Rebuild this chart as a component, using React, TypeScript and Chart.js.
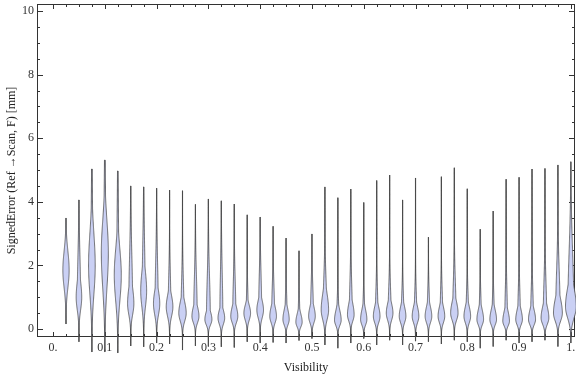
import React, { useEffect, useRef } from 'react';
import { Chart, registerables } from 'chart.js';
Chart.register(...registerables);

// Visibility category of each violin
const positions = [
  0.025, 0.05, 0.075, 0.1, 0.125, 0.15, 0.175, 0.2, 0.225, 0.25,
  0.275, 0.3, 0.325, 0.35, 0.375, 0.4, 0.425, 0.45, 0.475, 0.5,
  0.525, 0.55, 0.575, 0.6, 0.625, 0.65, 0.675, 0.7, 0.725, 0.75,
  0.775, 0.8, 0.825, 0.85, 0.875, 0.9, 0.925, 0.95, 0.975, 1.0,
];
// Extremes of the signed error per category (mm)
const maxima = [
  3.49, 4.06, 5.03, 5.31, 4.97, 4.5, 4.47, 4.43, 4.37, 4.35,
  3.92, 4.09, 4.03, 3.93, 3.59, 3.52, 3.23, 2.86, 2.46, 2.99,
  4.47, 4.13, 4.4, 3.98, 4.67, 4.84, 4.06, 4.75, 2.89, 4.79,
  5.07, 4.41, 3.14, 3.71, 4.71, 4.77, 5.03, 5.05, 5.16, 5.26,
];
const minima = [
  0.16, -0.4, -0.72, -0.72, -0.75, -0.53, -0.56, -0.44, -0.47, -0.66,
  -0.53, -0.55, -0.56, -0.58, -0.4, -0.44, -0.42, -0.44, -0.36, -0.3,
  -0.5, -0.6, -0.44, -0.3, -0.5, -0.35, -0.5, -0.38, -0.4, -0.47,
  -0.35, -0.4, -0.6, -0.55, -0.35, -0.44, -0.4, -0.35, -0.55, -0.44,
];
// Density description per category: mode, spread below / above, upper tail weight & spread, relative peak density
const modes = [
  1.85, 1.0, 2.0, 2.4, 1.7, 0.8, 1.2, 0.8, 0.7, 0.5,
  0.4, 0.3, 0.35, 0.4, 0.5, 0.6, 0.4, 0.3, 0.22, 0.4,
  0.6, 0.28, 0.45, 0.3, 0.4, 0.5, 0.4, 0.4, 0.4, 0.4,
  0.5, 0.4, 0.3, 0.3, 0.25, 0.3, 0.3, 0.35, 0.5, 0.7,
];
const spreadBelow = [
  0.55, 0.4, 0.9, 1.1, 0.8, 0.35, 0.5, 0.35, 0.3, 0.25,
  0.2, 0.17, 0.2, 0.2, 0.22, 0.25, 0.2, 0.17, 0.15, 0.2,
  0.3, 0.17, 0.2, 0.17, 0.2, 0.22, 0.2, 0.2, 0.2, 0.2,
  0.22, 0.2, 0.17, 0.17, 0.15, 0.17, 0.17, 0.2, 0.25, 0.35,
];
const spreadAbove = [
  0.6, 0.5, 1.0, 1.0, 0.8, 0.5, 0.6, 0.4, 0.35, 0.35,
  0.3, 0.25, 0.25, 0.3, 0.25, 0.3, 0.3, 0.3, 0.25, 0.3,
  0.5, 0.3, 0.35, 0.3, 0.3, 0.3, 0.3, 0.3, 0.3, 0.3,
  0.35, 0.3, 0.3, 0.3, 0.3, 0.3, 0.3, 0.35, 0.45, 0.6,
];
const tailWeight = [
  0, 0.6, 0.3, 0.3, 0.3, 0.6, 0.5, 0.5, 0.4, 0.4,
  0.5, 0.55, 0.45, 0.45, 0.3, 0.45, 0.45, 0.35, 0.3, 0.45,
  0.5, 0.35, 0.45, 0.35, 0.4, 0.45, 0.4, 0.4, 0.4, 0.4,
  0.45, 0.4, 0.35, 0.35, 0.4, 0.4, 0.4, 0.45, 0.5, 0.55,
];
const tailSpread = [
  1, 1.3, 2.0, 2.0, 2.0, 1.5, 1.5, 1.3, 1.0, 1.0,
  1.2, 1.3, 1.4, 1.1, 0.7, 1.1, 0.9, 0.7, 0.6, 0.9,
  1.0, 0.6, 1.0, 0.6, 0.8, 0.8, 0.7, 0.7, 0.7, 0.8,
  1.0, 0.7, 0.7, 0.7, 1.0, 0.9, 0.9, 1.1, 1.3, 1.7,
];
const peakDensity = [
  0.85, 0.75, 0.9, 0.95, 0.95, 0.85, 0.8, 0.85, 0.9, 1.0,
  0.95, 0.95, 0.9, 0.95, 0.9, 0.9, 0.9, 0.85, 0.85, 0.9,
  1.0, 0.9, 0.9, 0.85, 0.9, 0.9, 0.9, 0.9, 0.9, 0.9,
  1.0, 0.9, 0.9, 0.9, 0.9, 0.9, 0.95, 1.05, 1.2, 1.45,
];

const xTickValues = [0, 0.1, 0.2, 0.3, 0.4, 0.5, 0.6, 0.7, 0.8, 0.9, 1.0];
const xTickLabels = ['0.', '0.1', '0.2', '0.3', '0.4', '0.5', '0.6', '0.7', '0.8', '0.9', '1.'];
const xMinorStep = 0.025;
const yTickValues = [0, 2, 4, 6, 8, 10];
const yTickLabels = ['0', '2', '4', '6', '8', '10'];
const yMinorStep = 0.5;

const FONT = "'Liberation Serif', 'Times New Roman', serif";

const framePlugin = {
  id: 'frameTicks',
  beforeDatasetsDraw(chart: any) {
    const { ctx, chartArea: a, scales } = chart;
    const xs = scales.x, ys = scales.y;
    ctx.save();
    ctx.strokeStyle = '#333';
    ctx.lineWidth = 1;
    ctx.strokeRect(a.left + 0.5, a.top + 0.5, a.right - a.left - 1, a.bottom - a.top - 1);
    ctx.beginPath();
    for (let v = 0; v <= 1.0001; v += xMinorStep) {
      const px = Math.round(xs.getPixelForValue(v)) + 0.5;
      const major = xTickValues.some((t) => Math.abs(t - v) < 1e-6);
      const len = major ? 5 : 3;
      ctx.moveTo(px, a.bottom); ctx.lineTo(px, a.bottom - len);
      ctx.moveTo(px, a.top); ctx.lineTo(px, a.top + len);
    }
    for (let v = 0; v <= 10.0001; v += yMinorStep) {
      const py = Math.round(ys.getPixelForValue(v)) + 0.5;
      const major = yTickValues.some((t) => Math.abs(t - v) < 1e-6);
      const len = major ? 6 : 3;
      ctx.moveTo(a.left, py); ctx.lineTo(a.left + len, py);
      ctx.moveTo(a.right, py); ctx.lineTo(a.right - len, py);
    }
    ctx.stroke();
    ctx.restore();
  },
};

const violinPlugin = {
  id: 'violins',
  afterDatasetsDraw(chart: any) {
    const { ctx, scales } = chart;
    const xs = scales.x, ys = scales.y;
    const unit = 3.7;
    ctx.save();
    positions.forEach((p, i) => {
      const cx = xs.getPixelForValue(p);
      const lo = minima[i], hi = maxima[i];
      ctx.beginPath();
      ctx.moveTo(cx, ys.getPixelForValue(lo));
      ctx.lineTo(cx, ys.getPixelForValue(hi));
      ctx.strokeStyle = 'rgba(70,70,70,0.8)';
      ctx.lineWidth = 1.15;
      ctx.stroke();
      const n = 200;
      const pts: [number, number][] = [];
      for (let k = 0; k <= n; k++) {
        const v = lo + ((hi - lo) * k) / n;
        const d = v - modes[i];
        const s = d < 0 ? spreadBelow[i] : spreadAbove[i];
        const g = Math.exp((-0.5 * d * d) / (s * s));
        const t = d > 0 ? tailWeight[i] * Math.exp((-0.5 * d * d) / (tailSpread[i] * tailSpread[i])) : 0;
        const hw = unit * peakDensity[i] * Math.max(g, t);
        pts.push([ys.getPixelForValue(v), hw]);
      }
      ctx.beginPath();
      pts.forEach(([py, hw], k) => {
        if (k === 0) ctx.moveTo(cx + hw, py);
        else ctx.lineTo(cx + hw, py);
      });
      for (let k = pts.length - 1; k >= 0; k--) ctx.lineTo(cx - pts[k][1], pts[k][0]);
      ctx.closePath();
      ctx.fillStyle = 'rgb(202,208,244)';
      ctx.fill();
      ctx.strokeStyle = 'rgba(70,70,70,0.9)';
      ctx.lineWidth = 0.85;
      ctx.stroke();
    });
    ctx.restore();
  },
};

export default function App() {
  const ref = useRef<HTMLCanvasElement>(null);
  useEffect(() => {
    if (!ref.current) return;
    const chart = new Chart(ref.current, {
      type: 'scatter',
      data: {
        datasets: [
          {
            data: positions.map((p, i) => ({ x: p, y: maxima[i] })),
            pointRadius: 0,
            showLine: false,
          },
        ],
      },
      options: {
        animation: false,
        responsive: false,
        devicePixelRatio: 1,
        layout: { padding: { top: 4, right: 1, left: 0, bottom: 0 } },
        plugins: { legend: { display: false }, tooltip: { enabled: false } },
        scales: {
          x: {
            type: 'linear',
            min: -0.031,
            max: 1.008,
            grid: { display: false, drawTicks: false },
            border: { display: false },
            afterBuildTicks: (s: any) => {
              s.ticks = xTickValues.map((v) => ({ value: v }));
            },
            afterFit: (s: any) => {
              s.height = 40;
              s.paddingLeft = 0;
              s.paddingRight = 0;
            },
            ticks: {
              autoSkip: false,
              maxRotation: 0,
              padding: 4,
              color: '#333',
              font: { family: FONT, size: 12 },
              callback: (_v: any, idx: number) => xTickLabels[idx],
            },
            title: {
              display: true,
              text: 'Visibility',
              color: '#222',
              font: { family: FONT, size: 12 },
              padding: { top: 0, bottom: 2 },
            },
          },
          y: {
            type: 'linear',
            min: -0.25,
            max: 10.22,
            grid: { display: false, drawTicks: false },
            border: { display: false },
            afterBuildTicks: (s: any) => {
              s.ticks = yTickValues.map((v) => ({ value: v }));
            },
            afterFit: (s: any) => {
              s.width = 37;
              s.paddingTop = 0;
              s.paddingBottom = 0;
            },
            ticks: {
              padding: 3,
              color: '#333',
              font: { family: FONT, size: 12 },
              callback: (_v: any, idx: number) => yTickLabels[idx],
            },
            title: {
              display: true,
              text: 'SignedError (Ref →Scan, F) [mm]',
              color: '#222',
              font: { family: FONT, size: 12 },
              padding: { top: 5, bottom: 0 },
            },
          },
        },
      },
      plugins: [framePlugin, violinPlugin],
    } as any);
    return () => chart.destroy();
  }, []);
  return (
    <div style={{ position: 'fixed', left: 0, top: 0, width: 576, height: 377, background: '#fff' }}>
      <canvas ref={ref} width={576} height={377} style={{ width: 576, height: 377 }} />
    </div>
  );
}
